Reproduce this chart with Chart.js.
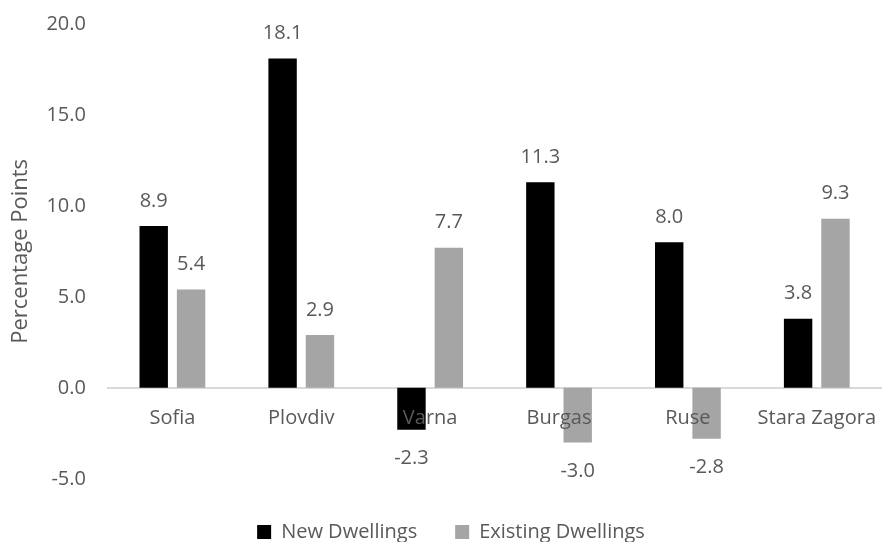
<!DOCTYPE html>
<html>
<head>
<meta charset="utf-8">
<script src="https://cdn.jsdelivr.net/npm/chart.js@4/dist/chart.umd.min.js"></script>
<style>
  html, body { margin: 0; padding: 0; background: #fff; }
  #wrap { width: 894px; height: 542px; }
</style>
</head>
<body>
<div id="wrap"><canvas id="myChart"></canvas></div>
<script>
// values
var cities = ['Sofia', 'Plovdiv', 'Varna', 'Burgas', 'Ruse', 'Stara Zagora'];
var newDwellings = [8.9, 18.1, -2.3, 11.3, 8.0, 3.8];
var existingDwellings = [5.4, 2.9, 7.7, -3.0, -2.8, 9.3];
var yTicks = [-5, 0, 5, 10, 15, 20];

var textColor = '#595959';
var fontFamily = "'Open Sans', 'Liberation Sans', sans-serif";

// draws the value above (or below) every bar
var valueLabels = {
    id: 'valueLabels',
    afterDatasetsDraw: function (chart) {
        var ctx = chart.ctx;
        ctx.save();
        ctx.font = '20px ' + fontFamily;
        ctx.fillStyle = textColor;
        ctx.textAlign = 'center';
        ctx.textBaseline = 'middle';
        chart.data.datasets.forEach(function (ds, i) {
            var meta = chart.getDatasetMeta(i);
            meta.data.forEach(function (bar, j) {
                var v = ds.data[j];
                var y = v >= 0 ? bar.y - 25 : bar.y + 29;
                ctx.fillText(v.toFixed(1), bar.x, y);
            });
        });
        ctx.restore();
    }
};

const data = {
    labels: cities,
    datasets: [{
        label: 'New Dwellings',
        data: newDwellings,
        backgroundColor: '#000000'
    }, {
        label: 'Existing Dwellings',
        data: existingDwellings,
        backgroundColor: '#a5a5a5'
    }]
};

const config = {
    type: 'bar',
    data: data,
    options: {
        responsive: true,
        maintainAspectRatio: false,
        animation: false,
        categoryPercentage: 0.58,
        barPercentage: 0.76,
        layout: { padding: { left: 8, right: 0, top: 0, bottom: -10 } },
        plugins: {
            tooltip: { enabled: false },
            legend: {
                position: 'bottom',
                // empty title only used as a spacer above the items
                title: { display: true, text: '', font: { size: 1 }, padding: { top: 4, bottom: 0 } },
                labels: {
                    color: textColor,
                    font: { family: fontFamily, size: 20 },
                    boxWidth: 14,
                    boxHeight: 14,
                    padding: 38
                }
            }
        },
        scales: {
            x: {
                position: { y: 0 },
                grid: { display: false, drawTicks: false },
                border: { display: true, color: '#d9d9d9', width: 2 },
                ticks: {
                    z: 1,
                    color: textColor,
                    font: { family: fontFamily, size: 20 },
                    padding: 18,
                    maxRotation: 0
                }
            },
            y: {
                min: -5,
                max: 20,
                afterBuildTicks: function (axis) {
                    axis.ticks = yTicks.map(function (v) { return { value: v }; });
                },
                // tick padding gets added on the outer side and on top too, take it back
                afterFit: function (axis) {
                    axis.width -= 22;
                    axis.paddingTop = 24;
                },
                grid: { display: false, drawTicks: false },
                border: { display: false },
                ticks: {
                    color: textColor,
                    font: { family: fontFamily, size: 20 },
                    padding: 22,
                    callback: function (v) { return Number(v).toFixed(1); }
                },
                title: {
                    display: true,
                    text: 'Percentage Points',
                    color: textColor,
                    font: { family: fontFamily, size: 22 },
                    padding: { top: 0, bottom: 12 }
                }
            }
        }
    },
    plugins: [valueLabels]
};

var ctx = document.getElementById('myChart').getContext('2d');
var myChart = new Chart(ctx, config);
</script>
</body>
</html>
